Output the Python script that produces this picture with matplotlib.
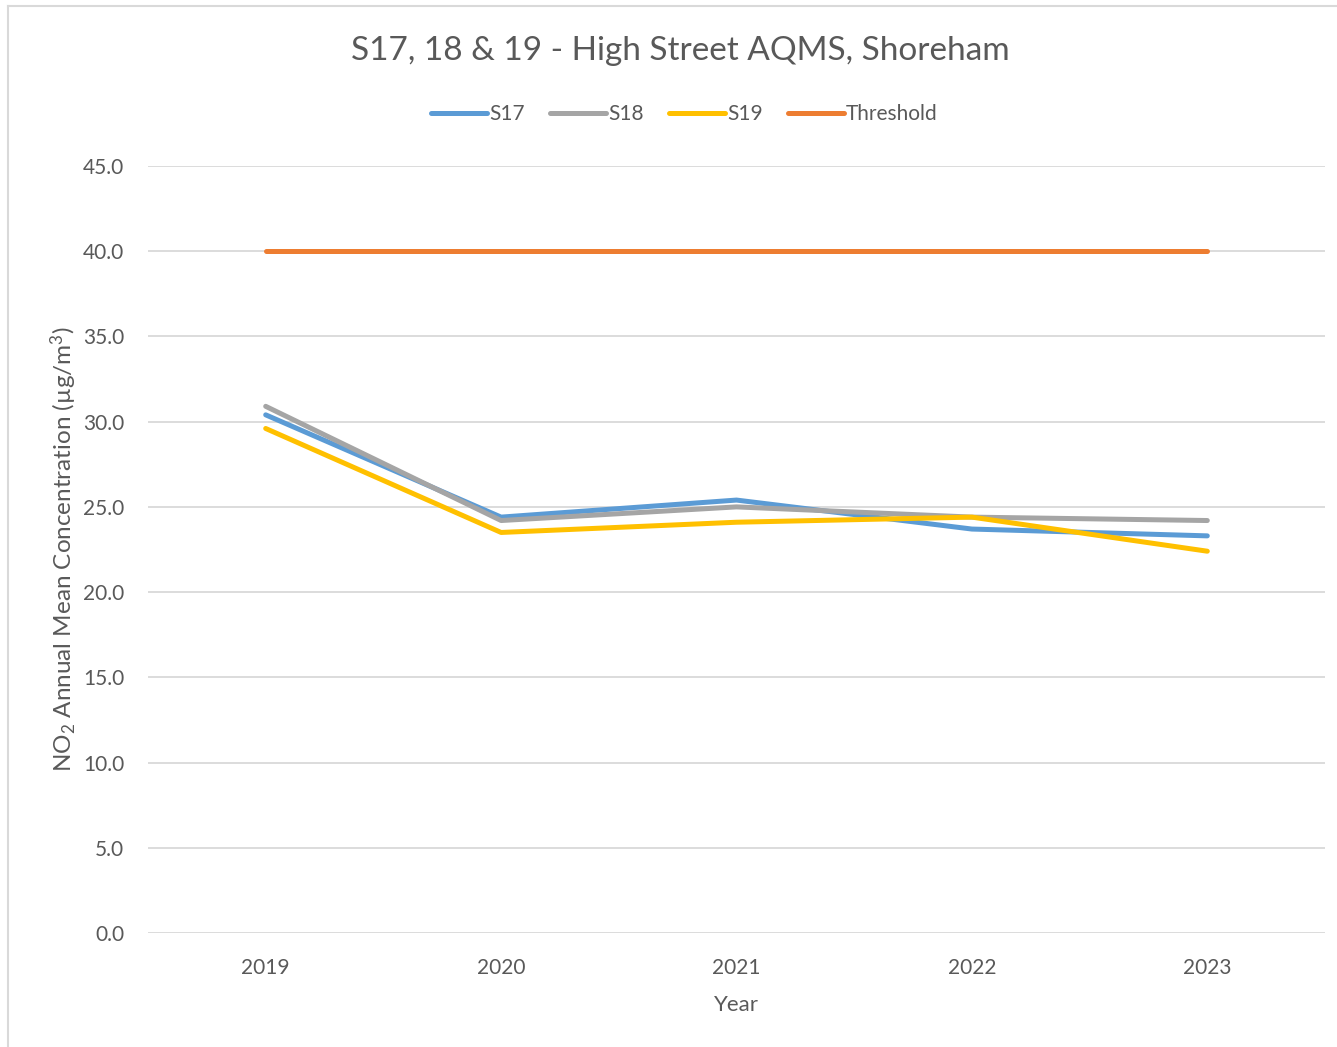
import matplotlib
matplotlib.use("Agg")
import matplotlib.pyplot as plt
from matplotlib.lines import Line2D

years = ["2019", "2020", "2021", "2022", "2023"]
s17 = [30.4, 24.4, 25.4, 23.7, 23.3]
s18 = [30.9, 24.2, 25.0, 24.4, 24.2]
s19 = [29.6, 23.5, 24.1, 24.4, 22.4]
threshold = [40.0, 40.0, 40.0, 40.0, 40.0]
yticks = [0, 5, 10, 15, 20, 25, 30, 35, 40, 45]

plt.rcParams['font.family'] = ['Lato', 'DejaVu Sans']
plt.rcParams['mathtext.fontset'] = 'custom'
plt.rcParams['mathtext.rm'] = 'Lato'
plt.rcParams['mathtext.it'] = 'Lato:italic'
plt.rcParams['mathtext.bf'] = 'Lato:bold'

txt = '#595959'
fig = plt.figure(figsize=(13.37, 10.47), dpi=100)
ax = fig.add_axes([148/1337, 1-933/1047, (1325-148)/1337, (933-166)/1047])

x = list(range(len(years)))
lw = 3.6
ax.plot(x, s17, color='#5B9BD5', lw=lw, solid_capstyle='round', solid_joinstyle='round', label='S17', zorder=3)
ax.plot(x, s18, color='#A5A5A5', lw=lw, solid_capstyle='round', solid_joinstyle='round', label='S18', zorder=3)
ax.plot(x, s19, color='#FFC000', lw=lw, solid_capstyle='round', solid_joinstyle='round', label='S19', zorder=4)
ax.plot(x, threshold, color='#ED7D31', lw=lw, solid_capstyle='round', solid_joinstyle='round', label='Threshold', zorder=3)

ax.set_xlim(-0.5, len(years) - 0.5)
ax.set_ylim(0, 45)
ax.set_yticks(yticks)
ax.set_yticklabels([f"{v:.1f}" for v in yticks])
ax.set_xticks(x)
ax.set_xticklabels(years)
ax.grid(axis='y', color='#D9D9D9', lw=1.3)
ax.set_axisbelow(True)
for s in ax.spines.values():
    s.set_visible(False)
ax.tick_params(axis='both', length=0, labelsize=15, colors=txt)
ax.tick_params(axis='y', pad=17)
ax.tick_params(axis='x', pad=18)
ax.set_xlabel('Year', fontsize=16, color=txt, labelpad=12)
ax.set_ylabel('NO$_2$ Annual Mean Concentration (µg/m$^3$)', fontsize=17.5, color=txt, labelpad=3)

fig.text(0.509, 1-51/1047, 'S17, 18 & 19 - High Street AQMS, Shoreham', ha='center', va='center',
         fontsize=24, color=txt)
fig.legend(loc='center', bbox_to_anchor=(0.512, 1-114/1047), ncol=4, frameon=False,
           fontsize=15, labelcolor=txt, handlelength=2.7, handletextpad=0.1, columnspacing=1.2)

fig.add_artist(Line2D([8/1337, 1], [1-6/1047, 1-6/1047], color='#D9D9D9', lw=1.5, transform=fig.transFigure))
fig.add_artist(Line2D([8/1337, 8/1337], [0, 1-6/1047], color='#D9D9D9', lw=1.5, transform=fig.transFigure))

fig.savefig('out.png', dpi=100, facecolor='white')
